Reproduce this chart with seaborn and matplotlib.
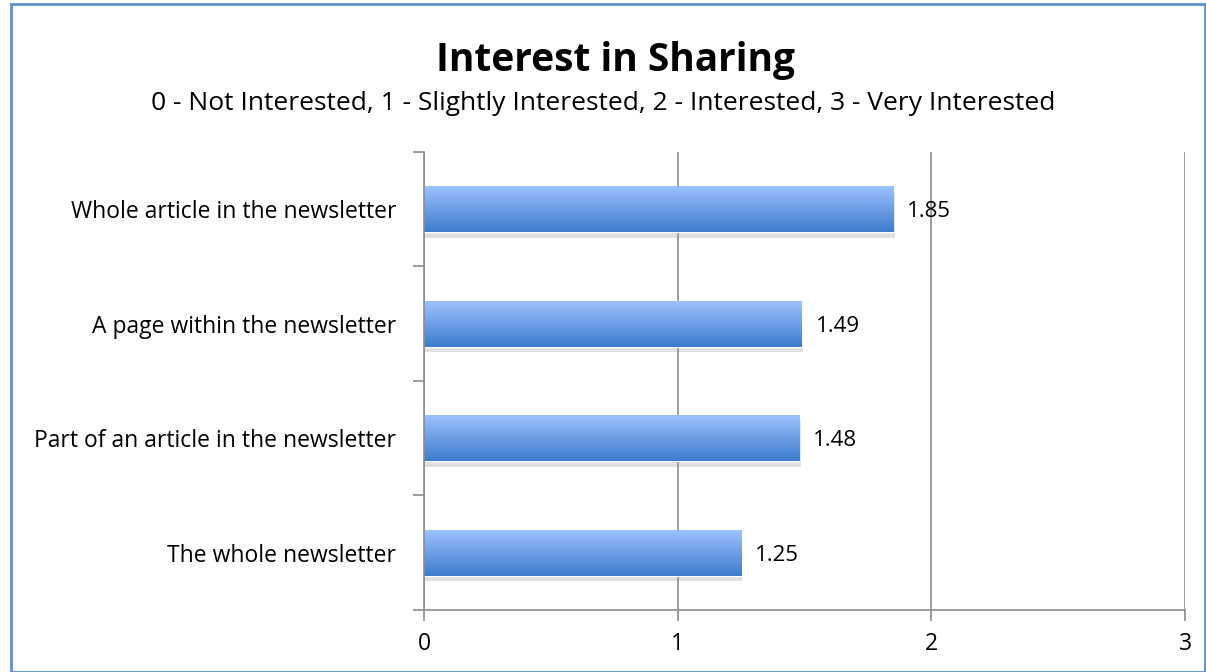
import numpy as np
import pandas as pd
import seaborn as sns
import matplotlib.pyplot as plt
from matplotlib.patches import Rectangle
from matplotlib.colors import LinearSegmentedColormap
import matplotlib.patheffects as pe

categories = ["Whole article in the newsletter", "A page within the newsletter",
              "Part of an article in the newsletter", "The whole newsletter"]
scores = [1.85, 1.49, 1.48, 1.25]
x_ticks = [0, 1, 2, 3]

df = pd.DataFrame({"item": categories, "score": scores})

sns.set_style("white")
plt.rcParams["font.family"] = ["Open Sans", "DejaVu Sans"]
plt.rcParams["text.color"] = "black"

fig = plt.figure(figsize=(12.06, 6.72), dpi=100)
ax = fig.add_axes([0.3516, 0.0923, 0.631, 0.6815])

sns.barplot(data=df, x="score", y="item", orient="h", width=0.4,
            color="#5b8fdc", ax=ax, zorder=3)

# gradient fill + soft shadow on each bar
grad = LinearSegmentedColormap.from_list("g", ["#9cc1ff", "#3d7ccc"])
for bar in ax.patches:
    x0, y0 = bar.get_x(), bar.get_y()
    w, h = bar.get_width(), bar.get_height()
    bar.set_path_effects([pe.SimplePatchShadow(offset=(1, -4), shadow_rgbFace="#999999", alpha=0.3),
                          pe.Normal()])
    img = ax.imshow(np.linspace(0, 1, 64).reshape(-1, 1), cmap=grad, aspect="auto",
                    extent=[x0, x0 + w, y0 + h, y0], origin="upper", zorder=4)
    img.set_clip_path(bar)

for i, v in enumerate(scores):
    ax.text(v + 0.055, i + 0.02, f"{v:.2f}", va="center", ha="left", fontsize=16, color="black", zorder=5)

ax.set_xlim(0, 3)
ax.set_ylim(3.5, -0.5)
ax.set_xticks(x_ticks)
ax.set_xticklabels([str(t) for t in x_ticks], fontsize=16.5)
ax.set_yticks(range(len(categories)))
ax.set_yticklabels(categories, fontsize=16.5)
ax.set_yticks([-0.5, 0.5, 1.5, 2.5, 3.5], minor=True)
ax.tick_params(axis="y", which="major", left=False, length=0, pad=20, labelcolor="black")
ax.tick_params(axis="y", which="minor", left=True, length=8, width=1.2, color="#8c8c8c", direction="out")
ax.tick_params(axis="x", bottom=True, length=8, width=1.2, color="#8c8c8c", direction="out",
               pad=8, labelcolor="black")
ax.set_xlabel("")
ax.set_ylabel("")

ax.grid(axis="x", color="#8c8c8c", linewidth=1.2, zorder=0)
ax.set_axisbelow(True)
for s in ["top", "right"]:
    ax.spines[s].set_visible(False)
for s in ["left", "bottom"]:
    ax.spines[s].set_color("#8c8c8c")
    ax.spines[s].set_linewidth(1.2)
    ax.spines[s].set_zorder(6)

fig.text(0.51, 0.91, "Interest in Sharing", ha="center", va="center",
         fontsize=28, fontweight="bold", color="black")
fig.text(0.5, 0.846, "0 - Not Interested, 1 - Slightly Interested, 2 - Interested, 3 - Very Interested",
         ha="center", va="center", fontsize=19, color="black")

fig.patches.append(Rectangle((0.009, 0.0), 0.99, 0.994, transform=fig.transFigure,
                             fill=False, edgecolor="#5b8fd6", linewidth=2))

fig.savefig("out.png", dpi=100)
